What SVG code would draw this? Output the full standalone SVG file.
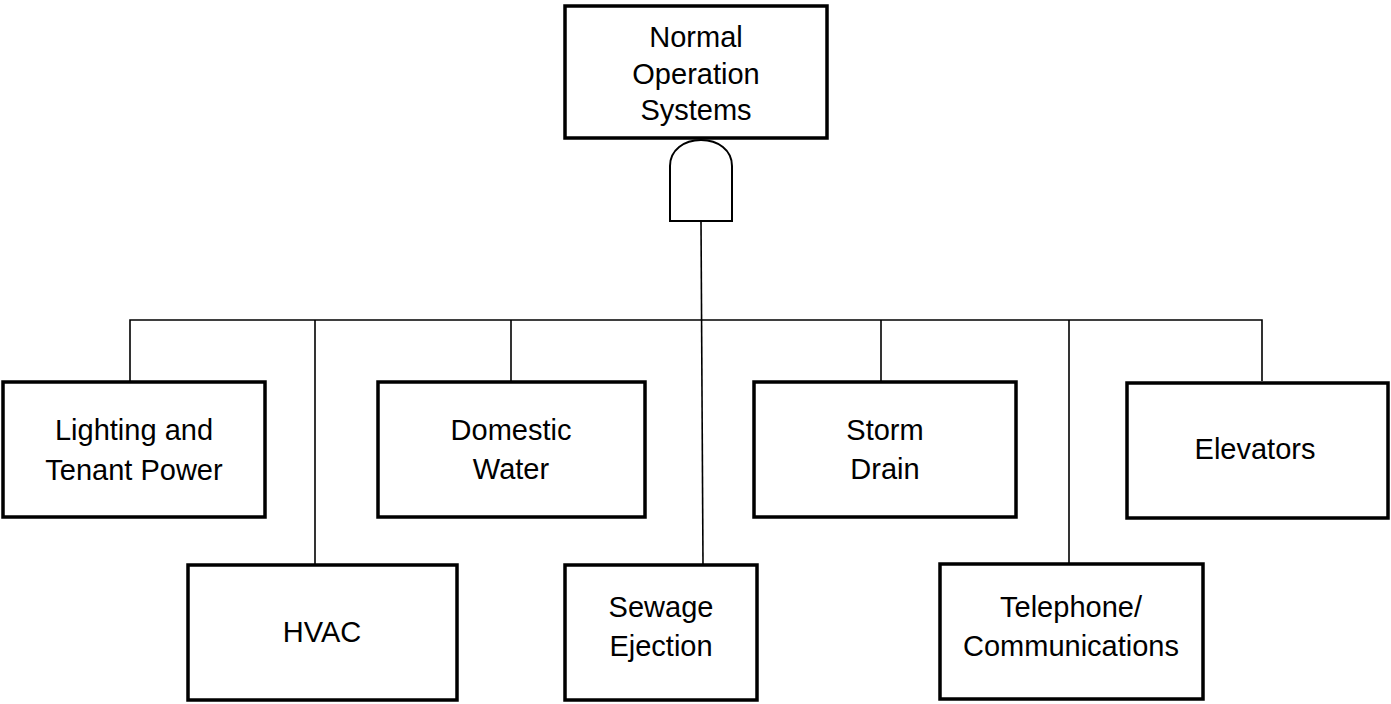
<svg xmlns="http://www.w3.org/2000/svg" width="1391" height="704" viewBox="0 0 1391 704">
<style>
.box{fill:#fff;stroke:#000;stroke-width:3.5}
.gate{fill:#fff;stroke:#000;stroke-width:2}
.conn{fill:none;stroke:#000;stroke-width:1.6}
text{font-family:"Liberation Sans",Arial,sans-serif;font-size:29px;fill:#000;text-anchor:middle}
</style>
<rect width="1391" height="704" fill="#fff"/>
<g id="connectors">
<line class="conn" x1="701" y1="221" x2="703" y2="564"/>
<polyline class="conn" points="130,381 130,320 1262,320 1262,381"/>
<line class="conn" x1="315" y1="320" x2="315" y2="564"/>
<line class="conn" x1="511" y1="320" x2="511" y2="381"/>
<line class="conn" x1="881" y1="320" x2="881" y2="381"/>
<line class="conn" x1="1069" y1="320" x2="1069" y2="564"/>
</g>
<g id="top">
<rect class="box" x="565" y="6" width="262" height="132"/>
<text x="696" y="47">Normal</text>
<text x="696" y="84">Operation</text>
<text x="696" y="120">Systems</text>
</g>
<g id="and-gate">
<path class="gate" d="M670,221 V166 C670,150 684,140 701,140 C718,140 732,150 732,166 V221 Z"/>
</g>
<g id="lighting">
<rect class="box" x="3" y="382" width="262" height="135"/>
<text x="134" y="440">Lighting and</text>
<text x="134" y="480">Tenant Power</text>
</g>
<g id="domestic">
<rect class="box" x="378" y="382" width="267" height="135"/>
<text x="511" y="440">Domestic</text>
<text x="511" y="479">Water</text>
</g>
<g id="storm">
<rect class="box" x="754" y="382" width="262" height="135"/>
<text x="885" y="440">Storm</text>
<text x="885" y="479">Drain</text>
</g>
<g id="elevators">
<rect class="box" x="1127" y="383" width="261" height="135"/>
<text x="1255" y="459">Elevators</text>
</g>
<g id="hvac">
<rect class="box" x="188" y="565" width="269" height="135"/>
<text x="322" y="642">HVAC</text>
</g>
<g id="sewage">
<rect class="box" x="565" y="565" width="192" height="135"/>
<text x="661" y="617">Sewage</text>
<text x="661" y="656">Ejection</text>
</g>
<g id="telephone">
<rect class="box" x="940" y="564" width="263" height="135"/>
<text x="1071" y="617">Telephone/</text>
<text x="1071" y="656">Communications</text>
</g>
</svg>
